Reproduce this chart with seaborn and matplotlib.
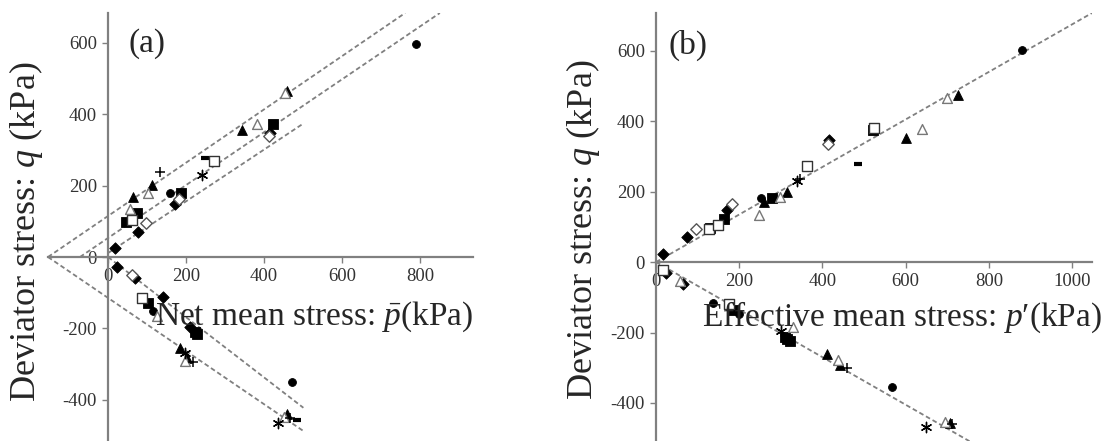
import matplotlib
matplotlib.use("Agg")
import matplotlib.pyplot as plt
import seaborn as sns
import pandas as pd

sns.set_theme(style="white")
plt.rcParams['font.family'] = ['Liberation Serif', 'DejaVu Serif']
plt.rcParams['mathtext.fontset'] = 'custom'
plt.rcParams['mathtext.rm'] = 'Liberation Serif'
plt.rcParams['mathtext.it'] = 'Liberation Serif:italic'
plt.rcParams['axes.unicode_minus'] = False

# ---------------- data: panel (a) net mean stress ----------------
a_comp_p = [18, 78, 97, 46, 74, 61, 56, 65, 103, 112, 133, 159, 187, 172, 182, 240, 249, 273,
            344, 381, 424, 415, 412, 458, 455, 791]
a_comp_q = [26, 71, 94, 99, 122, 104, 134, 169, 180, 202, 237, 180, 180, 148, 162, 230, 276, 270,
            355, 372, 372, 348, 338, 466, 458, 596]
a_comp_m = ['fd', 'fd', 'od', 'fs', 'fs', 'os', 'ot', 'ft', 'ot', 'ft', 'plus', 'fc', 'fs', 'fd', 'od',
            'star', 'dash', 'os', 'ft', 'ot', 'fs', 'fd', 'od', 'ft', 'ot', 'fc']

a_ext_p = [24, 62, 69, 140, 86, 102, 116, 125, 210, 223, 229, 185, 197, 203, 198, 219,
           473, 458, 450, 437, 466, 484]
a_ext_q = [-27, -50, -60, -111, -116, -130, -151, -165, -195, -209, -216, -256, -268, -284, -291, -293,
           -349, -440, -448, -464, -452, -457]
a_ext_m = ['fd', 'od', 'fd', 'fd', 'os', 'fs', 'fc', 'ot', 'fd', 'fs', 'fs', 'ft', 'star', 'ft', 'ot', 'plus',
           'fc', 'ft', 'ot', 'star', 'plus', 'dash']

# dashed guide lines (start/end in data units)
a_line_p0 = [-154, -72, 0, -154, 0]
a_line_p1 = [762, 851, 500, 501, 501]
a_line_q0 = [0, 0, 11, 0, 0]
a_line_q1 = [683, 683, 373, -487, -422]

# ---------------- data: panel (b) effective mean stress ----------------
b_comp_p = [18, 75, 95, 130, 127, 150, 163, 171, 182, 248, 252, 260, 278, 298, 314, 340, 346, 364,
            415, 413, 521, 523, 485, 601, 640, 699, 725, 879]
b_comp_q = [23, 70, 93, 98, 95, 105, 121, 148, 164, 134, 181, 171, 181, 184, 200, 230, 235, 273,
            347, 335, 374, 380, 278, 353, 377, 465, 473, 602]
b_comp_m = ['fd', 'fd', 'od', 'fs', 'os', 'os', 'fs', 'fd', 'od', 'ot', 'fc', 'ft', 'fs', 'ot', 'ft', 'star', 'plus', 'os',
            'fd', 'od', 'fs', 'os', 'dash', 'ft', 'ot', 'ot', 'ft', 'fc']

b_ext_p = [18, 24, 58, 64, 138, 176, 186, 200, 330, 300, 310, 316, 322, 410, 438, 442, 458,
           568, 649, 695, 707, 712]
b_ext_q = [-22, -30, -55, -62, -116, -120, -136, -147, -184, -196, -212, -218, -224, -261, -278, -292, -302,
           -354, -468, -454, -456, -460]
b_ext_m = ['os', 'fd', 'ot', 'fd', 'fc', 'os', 'fs', 'fc', 'ot', 'star', 'fs', 'fs', 'fs', 'ft', 'ot', 'ft', 'plus',
           'fc', 'star', 'ot', 'ft', 'plus']

b_line_p0 = [0, 0]
b_line_p1 = [1048, 760]
b_line_q0 = [0, 0]
b_line_q1 = [707, -513]

x_ticks_a = [0, 200, 400, 600, 800]
x_ticks_b = [0, 200, 400, 600, 800, 1000]
y_ticks = [-400, -200, 0, 200, 400, 600]

STY = {
    'fd': dict(marker='D', color='black', edgecolor='black', s=34, linewidth=0.6),
    'od': dict(marker='D', color='white', edgecolor='#555555', s=34, linewidth=1.0),
    'fs': dict(marker='s', color='black', edgecolor='black', s=42, linewidth=0.6),
    'os': dict(marker='s', color='white', edgecolor='#333333', s=42, linewidth=1.0),
    'ft': dict(marker='^', color='black', edgecolor='black', s=50, linewidth=0.6),
    'ot': dict(marker='^', color='white', edgecolor='#777777', s=50, linewidth=1.0),
    'fc': dict(marker='o', color='black', edgecolor='black', s=32, linewidth=0.6),
    'plus': dict(marker='+', color='black', s=55, linewidth=1.1),
    'star': dict(marker=(6, 2, 0), color='black', s=55, linewidth=1.0),
    'dash': dict(marker='_', color='black', s=40, linewidth=3.0),
}

GRAY = '#808080'
W, H = 1104, 441
fig = plt.figure(figsize=(W / 100, H / 100), dpi=100)

axA = fig.add_axes([48 / W, 0, (473 - 48) / W, (441 - 13) / H])
axB = fig.add_axes([656 / W, 0, (1092 - 656) / W, (441 - 13) / H])


def draw(ax, groups, lines, xlim, ylim, xticks):
    p0, p1, q0, q1 = lines
    for i in range(len(p0)):
        ld = pd.DataFrame({'p': [p0[i], p1[i]], 'q': [q0[i], q1[i]]})
        sns.lineplot(data=ld, x='p', y='q', ax=ax, sort=False, estimator=None,
                     color=GRAY, linewidth=1.3, linestyle=(0, (2.6, 1.6)), zorder=2)
    for ps, qs, ms in groups:
        df = pd.DataFrame({'p': ps, 'q': qs, 'm': ms})
        for key, sub in df.groupby('m'):
            sns.scatterplot(data=sub, x='p', y='q', ax=ax, zorder=3, legend=False, **STY[key])
    ax.set_xlim(*xlim)
    ax.set_ylim(*ylim)
    ax.set_xticks(xticks)
    ax.set_yticks(y_ticks)
    ax.set_xticklabels([str(t) for t in xticks])
    ax.set_yticklabels([str(t) for t in y_ticks])
    ax.set_xlabel('')
    ax.set_ylabel('')
    ax.spines['left'].set_position(('data', 0))
    ax.spines['bottom'].set_position(('data', 0))
    for s in ['top', 'right']:
        ax.spines[s].set_visible(False)
    for s in ['left', 'bottom']:
        ax.spines[s].set_color(GRAY)
        ax.spines[s].set_linewidth(1.6)
    ax.tick_params(axis='both', which='major', direction='out', length=4, width=1.0,
                   color=GRAY, labelsize=13.5, labelcolor='#333333', pad=4,
                   bottom=True, left=True)
    for lab in ax.get_xticklabels() + ax.get_yticklabels():
        lab.set_family(['Liberation Serif', 'DejaVu Serif'])
    ax.patch.set_alpha(0)
    ax.grid(False)


draw(axA, [(a_comp_p, a_comp_q, a_comp_m), (a_ext_p, a_ext_q, a_ext_m)],
     (a_line_p0, a_line_p1, a_line_q0, a_line_q1), (-154, 936), (-515, 683), x_ticks_a)
draw(axB, [(b_comp_p, b_comp_q, b_comp_m), (b_ext_p, b_ext_q, b_ext_m)],
     (b_line_p0, b_line_p1, b_line_q0, b_line_q1), (0, 1048), (-508, 707), x_ticks_b)

LBL = 24
YLBL = 26


def fx(px):
    return px / W


def fy(py):
    return 1 - py / H


fig.text(fx(128), fy(52), '(a)', fontsize=LBL, ha='left', va='baseline')
fig.text(fx(668), fy(54), '(b)', fontsize=LBL, ha='left', va='baseline')
fig.text(fx(26), fy(232), 'Deviator stress: $q$ (kPa)', fontsize=YLBL, rotation=90,
         ha='center', va='center')
fig.text(fx(583), fy(230), 'Deviator stress: $q$ (kPa)', fontsize=YLBL, rotation=90,
         ha='center', va='center')
fig.text(fx(155), fy(325), r'Net mean stress: $\bar{p}$(kPa)', fontsize=LBL,
         ha='left', va='baseline', zorder=5)
fig.text(fx(702), fy(326), "Effective mean stress: $p$\u2032(kPa)", fontsize=LBL,
         ha='left', va='baseline', zorder=5)

fig.savefig('out.png', dpi=100)
